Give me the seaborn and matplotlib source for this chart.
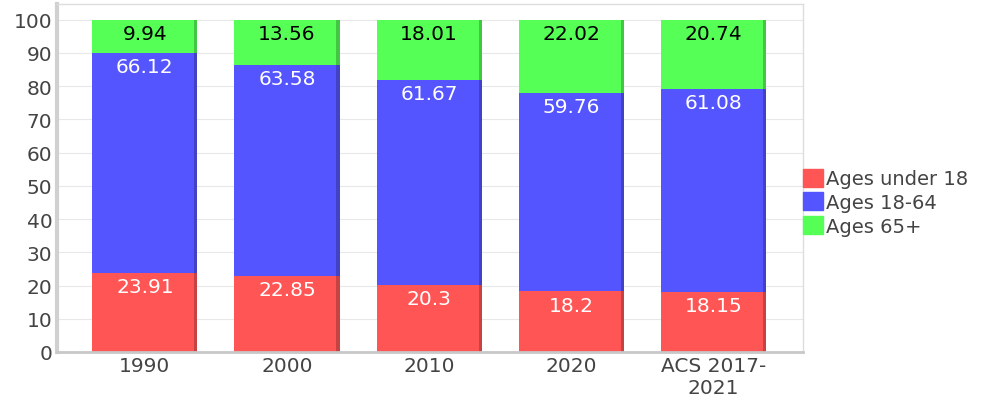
import numpy as np
import pandas as pd
import seaborn as sns
import matplotlib.pyplot as plt
from matplotlib.patches import Rectangle
import matplotlib.colors as mcolors

# -----------------------------
# Data
# -----------------------------
years = ["1990", "2000", "2010", "2020", "ACS 2017-\n2021"]
under_18 = [23.91, 22.85, 20.3, 18.2, 18.15]
ages_18_64 = [66.12, 63.58, 61.67, 59.76, 61.08]
ages_65 = [9.94, 13.56, 18.01, 22.02, 20.74]

series = ["Ages under 18", "Ages 18-64", "Ages 65+"]
colors = ["#FF5555", "#5555FF", "#55FF55"]
label_colors = ["white", "white", "black"]

sns.set_theme(style="white")
plt.rcParams['font.family'] = ['DejaVu Sans']

fig, ax = plt.subplots(figsize=(9.94, 4.02), dpi=100)
fig.subplots_adjust(left=0.057, right=0.808, top=0.988, bottom=0.122)

df = pd.DataFrame({"year": years, "u18": under_18, "mid": ages_18_64, "old": ages_65})
df["c1"] = df["u18"]
df["c2"] = df["u18"] + df["mid"]
df["c3"] = df["c2"] + df["old"]

# draw tallest first so the lower segments sit on top
for col, color in zip(["c3", "c2", "c1"], colors[::-1]):
    sns.barplot(data=df, x="year", y=col, color=color, width=0.74,
                saturation=1, ax=ax, zorder=2, linewidth=0, edgecolor="none")

# darker right edge on each bar, like the original
for p in list(ax.patches):
    fc = np.array(mcolors.to_rgb(p.get_facecolor())) * 0.78
    w = 0.022
    ax.add_patch(Rectangle((p.get_x() + p.get_width() - w, p.get_y()), w,
                           p.get_height(), color=fc, zorder=2.5, lw=0))

# value labels near top of each segment
tops = [df["c1"], df["c2"], df["c3"]]
vals = [under_18, ages_18_64, ages_65]
for vs, ts, tc in zip(vals, tops, label_colors):
    for i, (v, t) in enumerate(zip(vs, ts)):
        ax.annotate(f"{v:g}", (i, t), xytext=(0, -3), textcoords="offset points",
                    ha="center", va="top", fontsize=14.5, color=tc, zorder=3)

ax.set_ylim(0, 104.8)
ax.set_xlim(-0.62, 4.63)
ax.set_yticks(range(0, 101, 10))
ax.yaxis.grid(True, color="#e8e8e8", lw=0.8, zorder=0)
ax.set_axisbelow(True)
ax.set_xlabel("")
ax.set_ylabel("")
ax.tick_params(axis="both", labelsize=14.5, colors="#444444", length=0, pad=3)

for s in ["top", "right"]:
    ax.spines[s].set_color("#dddddd")
    ax.spines[s].set_linewidth(1)
ax.spines["left"].set_color("#d0d0d0")
ax.spines["left"].set_linewidth(3)
ax.spines["bottom"].set_color("#c8c8c8")
ax.spines["bottom"].set_linewidth(2)

handles = [Rectangle((0, 0), 1, 1, color=c) for c in colors]
ax.legend(handles, series, loc="center left", bbox_to_anchor=(0.997, 0.43),
          frameon=False, fontsize=14, handlelength=1.05, handleheight=1.05,
          handletextpad=0.12, labelspacing=0.22, borderaxespad=0.0,
          borderpad=0.1, labelcolor="#444444")

fig.savefig("out.png", dpi=100)
